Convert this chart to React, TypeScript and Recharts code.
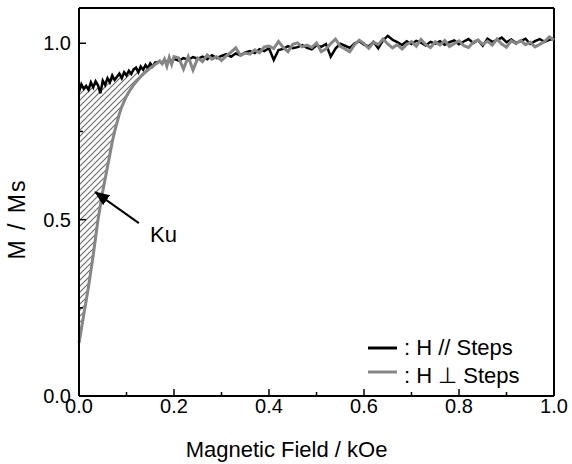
import React from "react";
import {
	ComposedChart,
	Line,
	Area,
	XAxis,
	YAxis,
	ReferenceLine,
	ReferenceDot,
	Label,
} from "recharts";

// magnetic field (kOe), dense near zero
const fieldKOe = [
	0, 0.005, 0.01, 0.015, 0.02, 0.025, 0.03, 0.035, 0.04, 0.045, 0.05, 0.055,
	0.06, 0.065, 0.07, 0.075, 0.08, 0.085, 0.09, 0.095, 0.1, 0.105, 0.11, 0.115,
	0.12, 0.125, 0.13, 0.135, 0.14, 0.145, 0.15, 0.155, 0.16, 0.165, 0.17, 0.175,
	0.18, 0.185, 0.19, 0.195, 0.2, 0.21, 0.22, 0.23, 0.24, 0.25, 0.26, 0.27,
	0.28, 0.29, 0.3, 0.31, 0.32, 0.33, 0.34, 0.35, 0.36, 0.37, 0.38, 0.39, 0.4,
	0.41, 0.42, 0.43, 0.44, 0.45, 0.46, 0.47, 0.48, 0.49, 0.5, 0.51, 0.52, 0.53,
	0.54, 0.55, 0.56, 0.57, 0.58, 0.59, 0.6, 0.61, 0.62, 0.63, 0.64, 0.65, 0.66,
	0.67, 0.68, 0.69, 0.7, 0.71, 0.72, 0.73, 0.74, 0.75, 0.76, 0.77, 0.78, 0.79,
	0.8, 0.81, 0.82, 0.83, 0.84, 0.85, 0.86, 0.87, 0.88, 0.89, 0.9, 0.91, 0.92,
	0.93, 0.94, 0.95, 0.96, 0.97, 0.98, 0.99, 1.0,
];

// M/Ms, H // steps (black)
const mParallel = [
	0.862, 0.884, 0.871, 0.879, 0.868, 0.889, 0.875, 0.892, 0.881, 0.858, 0.894,
	0.882, 0.901, 0.889, 0.909, 0.896, 0.905, 0.914, 0.901, 0.918, 0.909, 0.922,
	0.913, 0.926, 0.931, 0.918, 0.934, 0.925, 0.938, 0.929, 0.943, 0.934, 0.945,
	0.946, 0.949, 0.943, 0.952, 0.946, 0.955, 0.948, 0.956, 0.951, 0.958, 0.953,
	0.961, 0.956, 0.962, 0.955, 0.966, 0.958, 0.964, 0.969, 0.962, 0.971, 0.966,
	0.974, 0.978, 0.972, 0.983, 0.978, 0.986, 0.953, 0.981, 0.984, 0.992, 0.986,
	0.989, 0.995, 0.987, 0.983, 0.994, 0.99, 0.998, 0.962, 0.985, 0.999, 0.993,
	0.987, 0.999, 1.006, 0.996, 0.991, 1.004, 0.986, 1.008, 1.021, 1.01, 1.003,
	0.995, 1.006, 0.998, 1.007, 1.002, 0.994, 1.004, 0.999, 1.006, 0.996, 1.003,
	1.008, 0.997, 1.005, 1.012, 1.001, 1.009, 0.993, 1.013, 1.004, 1.009, 1.016,
	1.003, 1.011, 1.001, 1.006, 1.013, 0.998, 1.006, 1.012, 1.004, 1.01, 1.013,
];

// M/Ms, H ⊥ steps (grey)
const mPerpendicular = [
	0.15, 0.19, 0.23, 0.27, 0.31, 0.355, 0.4, 0.45, 0.5, 0.54, 0.58, 0.615, 0.65,
	0.685, 0.72, 0.75, 0.775, 0.8, 0.82, 0.835, 0.85, 0.862, 0.872, 0.882, 0.89,
	0.898, 0.905, 0.912, 0.918, 0.924, 0.93, 0.935, 0.94, 0.944, 0.95, 0.942,
	0.955, 0.935, 0.96, 0.94, 0.962, 0.958, 0.927, 0.962, 0.924, 0.958, 0.948,
	0.967, 0.955, 0.962, 0.951, 0.964, 0.975, 0.987, 0.966, 0.972, 0.969, 0.981,
	0.973, 0.99, 0.992, 0.985, 1.005, 0.988, 0.976, 0.997, 1.001, 0.99, 0.995,
	0.988, 1.001, 0.976, 0.984, 0.999, 1.012, 0.991, 0.984, 0.976, 0.996, 1.009,
	0.999, 0.986, 1.003, 0.996, 1.012, 0.998, 0.987, 0.996, 0.984, 0.997, 1.005,
	0.992, 1.011, 0.996, 0.988, 1.004, 0.995, 1.008, 0.991, 0.999, 1.007, 0.993,
	0.988, 1.003, 1.009, 0.997, 1.006, 0.995, 1.012, 0.998, 0.989, 1.007, 0.999,
	1.008, 0.996, 1.003, 0.99, 0.997, 1.005, 1.018, 1.009,
];

const xTicks = [0, 0.1, 0.2, 0.3, 0.4, 0.5, 0.6, 0.7, 0.8, 0.9, 1.0];
const yTicks = [0, 0.25, 0.5, 0.75, 1.0];
const kuBandEnd = 0.16;

const chartData = fieldKOe.map((h, i) => ({
	h,
	par: mParallel[i],
	perp: mPerpendicular[i],
	band: h <= kuBandEnd ? [mPerpendicular[i], mParallel[i]] : null,
}));

const FONT = "'Liberation Sans', Arial, sans-serif";

function XTick(props: { x?: number; y?: number; payload?: { value?: number } }) {
	const x = props.x ?? 0;
	const y = props.y ?? 0;
	const v = props.payload?.value ?? 0;
	const major = Math.round(v * 10) % 2 === 0;
	return (
		<g>
			<line x1={x} x2={x} y1={y} y2={y - (major ? 7 : 4)} stroke="#000" strokeWidth={1.5} />
			{major && (
				<text x={x} y={y + 17} textAnchor="middle" fontSize={20} fill="#000" fontFamily={FONT}>
					{v.toFixed(1)}
				</text>
			)}
		</g>
	);
}

function YTick(props: { x?: number; y?: number; payload?: { value?: number } }) {
	const x = props.x ?? 0;
	const y = props.y ?? 0;
	const v = props.payload?.value ?? 0;
	const major = Math.round(v * 100) % 50 === 0;
	return (
		<g>
			<line x1={x} x2={x + (major ? 7 : 4)} y1={y} y2={y} stroke="#000" strokeWidth={1.5} />
			{major && (
				<text x={x - 8} y={y + 7} textAnchor="end" fontSize={20} fill="#000" fontFamily={FONT}>
					{v.toFixed(1)}
				</text>
			)}
		</g>
	);
}

export default function App() {
	return (
		<div style={{ position: "absolute", left: 0, top: 0, width: 572, height: 464, fontFamily: FONT }}>
			<ComposedChart
				width={572}
				height={464}
				data={chartData}
				margin={{ top: 8, right: 18, bottom: 0, left: 19 }}
			>
				<defs>
					<pattern id="hatch" patternUnits="userSpaceOnUse" width={6} height={6}>
						<path d="M-1,1 l2,-2 M0,6 l6,-6 M5,7 l2,-2" stroke="#6e6e6e" strokeWidth={1.2} />
					</pattern>
					<marker
						id="arrowHead"
						markerWidth={15}
						markerHeight={12}
						refX={14}
						refY={6}
						orient="auto"
						markerUnits="userSpaceOnUse"
					>
						<path d="M0,0 L15,6 L0,12 z" fill="#000" />
					</marker>
				</defs>
				<XAxis
					type="number"
					dataKey="h"
					domain={[0, 1]}
					ticks={xTicks}
					interval={0}
					height={68}
					tickSize={0}
					tickMargin={0}
					tickLine={false}
					axisLine={{ stroke: "#000", strokeWidth: 2 }}
					tick={<XTick />}
				>
					<Label
						content={(p: { viewBox?: { x: number; y: number; width: number } }) => {
							const vb = p.viewBox ?? { x: 0, y: 0, width: 0 };
							return (
								<text
									x={vb.x + vb.width / 2 - 30}
									y={vb.y + 61}
									textAnchor="middle"
									fontSize={22}
									fill="#000"
									fontFamily={FONT}
								>
									Magnetic Field / kOe
								</text>
							);
						}}
					/>
				</XAxis>
				<YAxis
					type="number"
					domain={[0, 1.1]}
					ticks={yTicks}
					interval={0}
					width={60}
					tickSize={0}
					tickMargin={0}
					tickLine={false}
					axisLine={{ stroke: "#000", strokeWidth: 2 }}
					tick={<YTick />}
				>
					<Label
						content={(p: { viewBox?: { x: number; y: number; height: number } }) => {
							const vb = p.viewBox ?? { x: 0, y: 0, height: 0 };
							const cx = vb.x - 2;
							const cy = vb.y + vb.height / 2 + 17;
							return (
								<text
									x={cx}
									y={cy}
									transform={`rotate(-90 ${cx} ${cy})`}
									textAnchor="middle"
									dominantBaseline="central"
									fontSize={23}
									letterSpacing={2}
									fill="#000"
									fontFamily={FONT}
								>
									M / Ms
								</text>
							);
						}}
					/>
				</YAxis>
				<ReferenceLine y={1.1} stroke="#000" strokeWidth={2} />
				<ReferenceLine x={1} stroke="#000" strokeWidth={2} />
				<Area
					dataKey="band"
					stroke="none"
					fill="url(#hatch)"
					fillOpacity={1}
					isAnimationActive={false}
					dot={false}
					activeDot={false}
				/>
				<Line
					dataKey="par"
					stroke="#000"
					strokeWidth={2.5}
					dot={false}
					activeDot={false}
					isAnimationActive={false}
				/>
				<Line
					dataKey="perp"
					stroke="#868686"
					strokeWidth={3}
					dot={false}
					activeDot={false}
					isAnimationActive={false}
				/>
				<ReferenceLine
					segment={[
						{ x: 0.126, y: 0.49 },
						{ x: 0.034, y: 0.578 },
					]}
					shape={(p: { x1?: number; y1?: number; x2?: number; y2?: number }) => (
						<line
							x1={p.x1}
							y1={p.y1}
							x2={p.x2}
							y2={p.y2}
							stroke="#000"
							strokeWidth={2}
							markerEnd="url(#arrowHead)"
						/>
					)}
				/>
				<ReferenceDot
					x={0.1495}
					y={0.436}
					r={0}
					shape={(p: { cx?: number; cy?: number }) => (
						<text x={p.cx} y={p.cy} fontSize={22} fill="#000" fontFamily={FONT}>
							Ku
						</text>
					)}
				/>
			</ComposedChart>
			<svg
				width={200}
				height={60}
				style={{ position: "absolute", left: 360, top: 332 }}
			>
				<line x1={8} x2={37} y1={16} y2={16} stroke="#000" strokeWidth={3} />
				<text x={44} y={23} fontSize={22} fill="#000" fontFamily={FONT}>
					: H // Steps
				</text>
				<line x1={8} x2={37} y1={40} y2={40} stroke="#868686" strokeWidth={3} />
				<text x={44} y={51} fontSize={22} fill="#000" fontFamily={FONT}>
					: H ⊥ Steps
				</text>
			</svg>
		</div>
	);
}
